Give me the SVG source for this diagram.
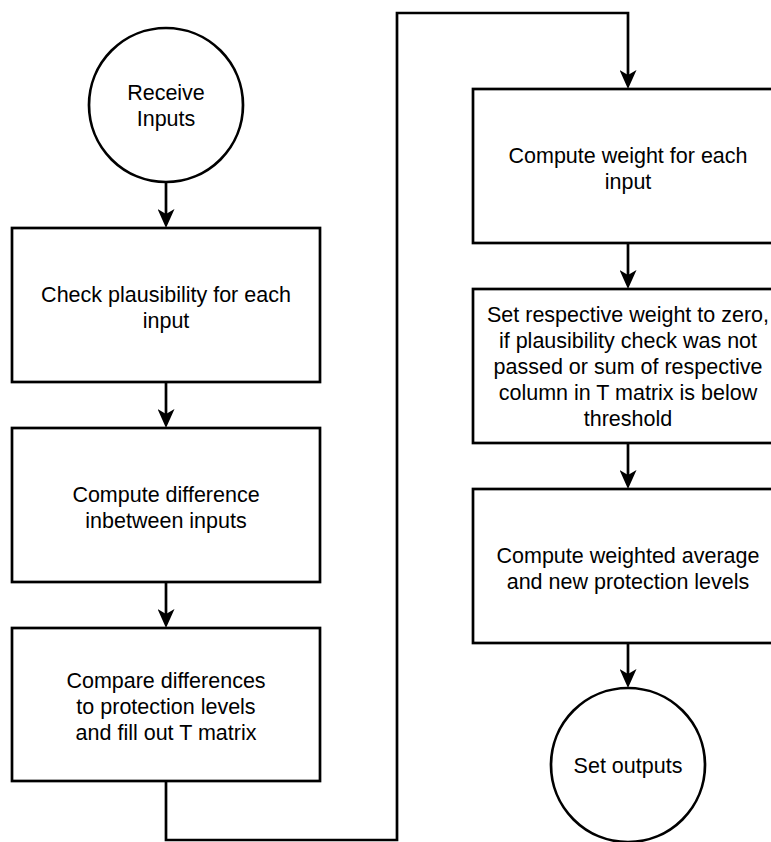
<svg xmlns="http://www.w3.org/2000/svg" width="771" height="842" viewBox="0 0 771 842">
  <style>
    .shape { fill: #ffffff; stroke: #000000; stroke-width: 2.7; }
    .edge { fill: none; stroke: #000000; stroke-width: 2.7; stroke-linejoin: miter; marker-end: url(#arrow); }
    .edge-plain { fill: none; stroke: #000000; stroke-width: 2.7; stroke-linejoin: miter; }
    text { font-family: "Liberation Sans", Arial, Helvetica, sans-serif; font-size: 21.5px; fill: #000000; text-anchor: middle; }
  </style>
  <defs>
    <marker id="arrow" markerUnits="userSpaceOnUse" viewBox="0 0 19 17" markerWidth="19" markerHeight="17" refX="7" refY="8.5" orient="auto">
      <path d="M0,0 L19,8.5 L0,17 L5,8.5 Z" fill="#000000"/>
    </marker>
  </defs>

  <rect width="771" height="842" fill="#ffffff"/>

  <!-- connectors -->
  <g id="connectors">
    <path class="edge" d="M166,182 V216"/>
    <path class="edge" d="M166,382 V416"/>
    <path class="edge" d="M166,582 V616"/>
    <path class="edge" d="M166,781 V840 H397 V13 H628 V77"/>
    <path class="edge" d="M628,243 V277"/>
    <path class="edge" d="M628,443 V477"/>
    <path class="edge" d="M628,643 V676"/>
  </g>

  <!-- start -->
  <g id="receive-inputs">
    <circle class="shape" cx="166" cy="105" r="77"/>
    <text x="166" y="100">Receive</text>
    <text x="166" y="126">Inputs</text>
  </g>

  <g id="check-plausibility">
    <rect class="shape" x="12" y="228" width="308" height="154"/>
    <text x="166" y="302">Check plausibility for each</text>
    <text x="166" y="328">input</text>
  </g>

  <g id="compute-difference">
    <rect class="shape" x="12" y="428" width="308" height="154"/>
    <text x="166" y="502">Compute difference</text>
    <text x="166" y="528">inbetween inputs</text>
  </g>

  <g id="compare-differences">
    <rect class="shape" x="12" y="628" width="308" height="153"/>
    <text x="166" y="688">Compare differences</text>
    <text x="166" y="714">to protection levels</text>
    <text x="166" y="740">and fill out T matrix</text>
  </g>

  <g id="compute-weight">
    <rect class="shape" x="473" y="89" width="310" height="154"/>
    <text x="628" y="163">Compute weight for each</text>
    <text x="628" y="189">input</text>
  </g>

  <g id="set-weight-zero">
    <rect class="shape" x="473" y="289" width="310" height="154"/>
    <text x="628" y="322">Set respective weight to zero,</text>
    <text x="628" y="348">if plausibility check was not</text>
    <text x="628" y="374">passed or sum of respective</text>
    <text x="628" y="400">column in T matrix is below</text>
    <text x="628" y="426">threshold</text>
  </g>

  <g id="weighted-average">
    <rect class="shape" x="473" y="489" width="310" height="154"/>
    <text x="628" y="563">Compute weighted average</text>
    <text x="628" y="589">and new protection levels</text>
  </g>

  <!-- end -->
  <g id="set-outputs">
    <circle class="shape" cx="628" cy="765" r="77"/>
    <text x="628" y="773">Set outputs</text>
  </g>
</svg>
